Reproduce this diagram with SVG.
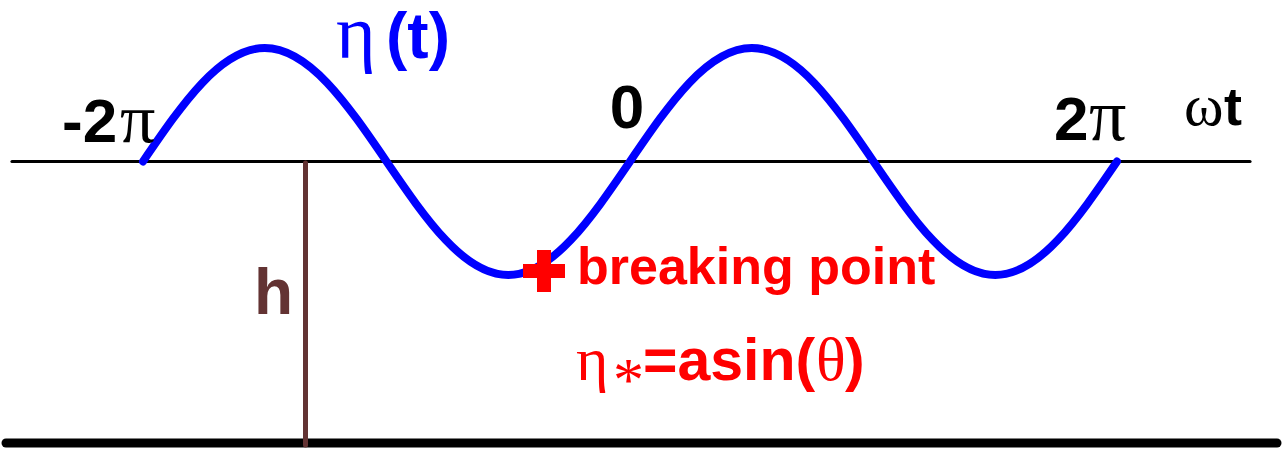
<svg xmlns="http://www.w3.org/2000/svg" width="1283" height="449" viewBox="0 0 1283 449">
  <style>
    .sans { font-family: "Liberation Sans", Arial, sans-serif; font-weight: bold; }
    .serif { font-family: "Liberation Serif", "Times New Roman", serif; font-weight: normal; }
    .blk { fill: #000000; }
    .blue { fill: #0000FF; }
    .red { fill: #FF0000; }
    .brown { fill: #633333; }
  </style>
  <rect width="1283" height="449" fill="#FFFFFF"/>
  <g id="connectors">
    <line id="axis" x1="12" y1="161.5" x2="1250" y2="161.5" stroke="#000000" stroke-width="3.2" stroke-linecap="round"/>
    <line id="bottom" x1="6" y1="443" x2="1277" y2="443" stroke="#000000" stroke-width="9" stroke-linecap="round"/>
    <line id="depth" x1="305.5" y1="163" x2="305.5" y2="445" stroke="#633333" stroke-width="5" stroke-linecap="round"/>
  </g>
  <g id="wave">
    <path d="M143,161.5 C182.71,103.35 220.69,48 264.75,48 S346.79,103.35 386.5,161.5 S464.19,275 508.25,275 S590.29,219.65 630,161.5 S707.69,48 751.75,48 S833.79,103.35 873.5,161.5 S951.19,275 995.25,275 S1077.29,219.65 1117,161.5" fill="none" stroke="#0000FF" stroke-width="8" stroke-linecap="round"/>
  </g>
  <g id="label-eta">
    <text x="336" y="58" class="blue"><tspan class="serif" font-size="76">η</tspan><tspan x="386" class="sans" font-size="64">(t)</tspan></text>
  </g>
  <g id="label-minus2pi">
    <text x="62" y="142" class="blk"><tspan class="sans" font-size="62">-2</tspan><tspan x="120" class="serif" font-size="70">π</tspan></text>
  </g>
  <g id="label-zero">
    <text x="627" y="128" class="sans blk" font-size="62" text-anchor="middle">0</text>
  </g>
  <g id="label-2pi">
    <text x="1054" y="140" class="blk"><tspan class="sans" font-size="62">2</tspan><tspan x="1089" class="serif" font-size="74">π</tspan></text>
  </g>
  <g id="label-omegat">
    <text x="1184" y="125" class="blk"><tspan class="serif" font-size="60">ω</tspan><tspan x="1224" class="sans" font-size="54">t</tspan></text>
  </g>
  <g id="label-h">
    <text x="254" y="314" class="sans brown" font-size="64">h</text>
  </g>
  <g id="breaking-point">
    <path d="M523,264 H537 V250 H551 V264 H565 V278 H551 V292 H537 V278 H523 Z" fill="#FF0000"/>
    <text x="577" y="284" class="sans red" font-size="52">breaking point</text>
  </g>
  <g id="formula">
    <text x="576" y="380" class="red"><tspan class="serif" font-size="62">η</tspan><tspan x="613" dy="20" class="serif" font-size="62">*</tspan><tspan x="643" dy="-20" class="sans" font-size="59">=asin(</tspan><tspan x="816" class="serif" font-size="62">θ</tspan><tspan x="845" class="sans" font-size="59">)</tspan></text>
  </g>
</svg>
